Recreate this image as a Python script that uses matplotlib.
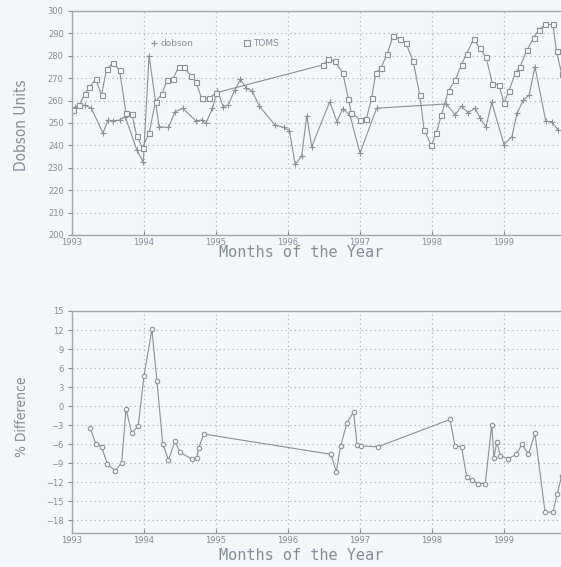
import matplotlib
matplotlib.use('Agg')
import matplotlib.pyplot as plt
from matplotlib.lines import Line2D

# TOMS (squares), decimal years and Dobson units
toms_t = [1993.02, 1993.10, 1993.18, 1993.24, 1993.33, 1993.41, 1993.48, 1993.57,
          1993.66, 1993.75, 1993.83, 1993.90, 1993.98, 1994.07, 1994.16, 1994.25,
          1994.32, 1994.40, 1994.48, 1994.56, 1994.65, 1994.72, 1994.80, 1994.90,
          1995.00, 1996.49, 1996.56, 1996.65, 1996.76, 1996.84, 1996.88, 1997.00,
          1997.09, 1997.16, 1997.22, 1997.29, 1997.38, 1997.46, 1997.55, 1997.64,
          1997.74, 1997.83, 1997.89, 1997.99, 1998.06, 1998.13, 1998.23, 1998.32,
          1998.41, 1998.48, 1998.58, 1998.66, 1998.75, 1998.84, 1998.93, 1999.00,
          1999.07, 1999.16, 1999.22, 1999.32, 1999.41, 1999.48, 1999.57, 1999.68,
          1999.73, 1999.80]
toms_du = [256, 258, 263, 266, 269.5, 262.5, 274, 277,
           273.5, 254.5, 254, 244, 239, 245.5, 259.5, 263,
           269, 269.5, 275, 275, 271, 268.5, 261, 261,
           263.5, 276, 278.5, 277.5, 272.5, 260.5, 254.5, 251.5,
           252, 261, 272.5, 274.5, 281, 289, 287.5, 285.5,
           277.5, 262.5, 247, 240, 245.5, 253.5, 264.5, 269,
           276, 281, 287.5, 283.5, 279.5, 267.5, 267, 259,
           264.5, 272.5, 275, 282.5, 288, 291.5, 294, 294,
           282, 272]

# Dobson (plus signs)
dob_t = [1993.04, 1993.18, 1993.27, 1993.43, 1993.50, 1993.57, 1993.66, 1993.74,
         1993.90, 1993.99, 1994.07, 1994.21, 1994.34, 1994.43, 1994.54, 1994.72,
         1994.80, 1994.86, 1994.95, 1995.02, 1995.10, 1995.17, 1995.26, 1995.34,
         1995.42, 1995.50, 1995.60, 1995.82, 1995.94, 1996.02, 1996.10, 1996.19,
         1996.26, 1996.33, 1996.58, 1996.68, 1996.76, 1996.86, 1997.00, 1997.23,
         1998.20, 1998.32, 1998.41, 1998.50, 1998.60, 1998.67, 1998.75, 1998.83,
         1999.00, 1999.11, 1999.18, 1999.27, 1999.35, 1999.43, 1999.58, 1999.66,
         1999.75]
dob_du = [257, 258, 256.5, 245.5, 251.3, 251, 251.3, 252.8,
          238, 232.5, 280, 248.3, 248, 255, 256.5, 251,
          251.3, 249.8, 256.6, 264.5, 257.3, 258, 264.7, 269.5,
          265.5, 264.4, 257.6, 249.1, 248, 246.6, 231.5, 235.3,
          253, 239.5, 259.5, 250.6, 256.4, 253.6, 236.5, 256.6,
          258.5, 253.6, 257.5, 254.6, 256.6, 252.1, 248.3, 259.2,
          240.4, 243.9, 254.3, 260.3, 262.5, 275.1, 250.8, 250.6,
          247]

# percent difference (circles)
diff_t = [1993.25, 1993.33, 1993.41, 1993.49, 1993.60, 1993.69, 1993.75, 1993.83,
          1993.92, 1994.00, 1994.11, 1994.18, 1994.26, 1994.34, 1994.43, 1994.50,
          1994.66, 1994.73, 1994.76, 1994.83, 1996.60, 1996.67, 1996.73, 1996.82,
          1996.91, 1996.96, 1997.02, 1997.25, 1998.25, 1998.32, 1998.41, 1998.48,
          1998.55, 1998.64, 1998.74, 1998.83, 1998.86, 1998.90, 1998.95, 1999.06,
          1999.17, 1999.25, 1999.34, 1999.43, 1999.57, 1999.68, 1999.74, 1999.80]
diff_pct = [-3.4, -5.9, -6.4, -9.1, -10.2, -8.9, -0.4, -4.3,
            -3.1, 4.8, 12.1, 3.9, -5.9, -8.5, -5.5, -7.3,
            -8.3, -8.2, -6.6, -4.4, -7.6, -10.4, -6.3, -2.6,
            -0.9, -6.1, -6.3, -6.4, -2.1, -6.3, -6.4, -11.1,
            -11.7, -12.2, -12.2, -2.9, -8.1, -5.7, -7.8, -8.3,
            -7.6, -6.0, -7.6, -4.3, -16.7, -16.7, -13.8, -11]

years = [1993, 1994, 1995, 1996, 1997, 1998, 1999]
year_labels = ['1993', '1994', '1995', '1996', '1997', '1998', '1999']
du_ticks = list(range(200, 301, 10))
pct_ticks = list(range(-18, 16, 3))

bg = '#f4f6f8'
ink = '#858d98'
line_c = '#8d9095'
grid_c = '#a4acb5'

fig = plt.figure(figsize=(5.61, 5.67), dpi=100, facecolor=bg)
W, H = 561, 567


def style(ax, yticks):
    ax.set_facecolor(bg)
    ax.set_xlim(1993, 2000)
    ax.set_xticks(years)
    ax.set_xticklabels(year_labels)
    ax.set_yticks(yticks)
    ax.grid(True, color=grid_c, linestyle=(0, (1, 3)), linewidth=0.8)
    ax.tick_params(axis='y', direction='out', length=3, color=ink,
                   labelsize=6, labelcolor=ink, pad=3)
    ax.tick_params(axis='x', direction='in', length=3, color=ink,
                   labelsize=6, labelcolor=ink, pad=2)
    for s in ax.spines.values():
        s.set_color('#a2a8b0')
        s.set_linewidth(1.0)


# top panel
ax1 = fig.add_axes([72 / W, (H - 235) / H, 504 / W, 224 / H])
style(ax1, du_ticks)
ax1.set_ylim(200, 300)
ax1.plot(dob_t, dob_du, color=line_c, lw=0.8, marker='+', ms=4.5, mew=0.8)
ax1.plot(toms_t, toms_du, color=line_c, lw=0.8, marker='s', ms=3.6,
         mfc=bg, mec=line_c, mew=0.8)
handles = [Line2D([], [], color=line_c, ls='none', marker='+', ms=5, mew=0.8),
           Line2D([], [], color=line_c, ls='none', marker='s', ms=5,
                  mfc=bg, mec=line_c, mew=0.8)]
leg = ax1.legend(handles, ['dobson', 'TOMS'], ncol=2, frameon=False,
                 loc='center left', bbox_to_anchor=(0.14, 0.855),
                 fontsize=6.5, handlelength=0.8, handletextpad=0.3,
                 columnspacing=5.5, labelcolor=ink)
fig.text(22 / W, 1 - 125 / H, 'Dobson Units', rotation=90, ha='center',
         va='center', fontsize=11, color=ink, family='DejaVu Sans',
         fontstretch='condensed')
fig.text(301 / W, 1 - 253 / H, 'Months of the Year', ha='center', va='center',
         fontsize=11, color=ink, family='DejaVu Sans Mono')

# bottom panel
ax2 = fig.add_axes([72 / W, (H - 533) / H, 504 / W, 222 / H])
style(ax2, pct_ticks)
ax2.set_ylim(-20, 15)
ax2.plot(diff_t, diff_pct, color=line_c, lw=0.8, marker='o', ms=3.2,
         mfc=bg, mec=line_c, mew=0.8)
fig.text(22 / W, 1 - 417 / H, '% Difference', rotation=90, ha='center',
         va='center', fontsize=10, color=ink, family='DejaVu Sans',
         fontstretch='condensed')
fig.text(301 / W, 1 - 555 / H, 'Months of the Year', ha='center', va='center',
         fontsize=11, color=ink, family='DejaVu Sans Mono')

fig.savefig('out.png', dpi=100, facecolor=bg)
